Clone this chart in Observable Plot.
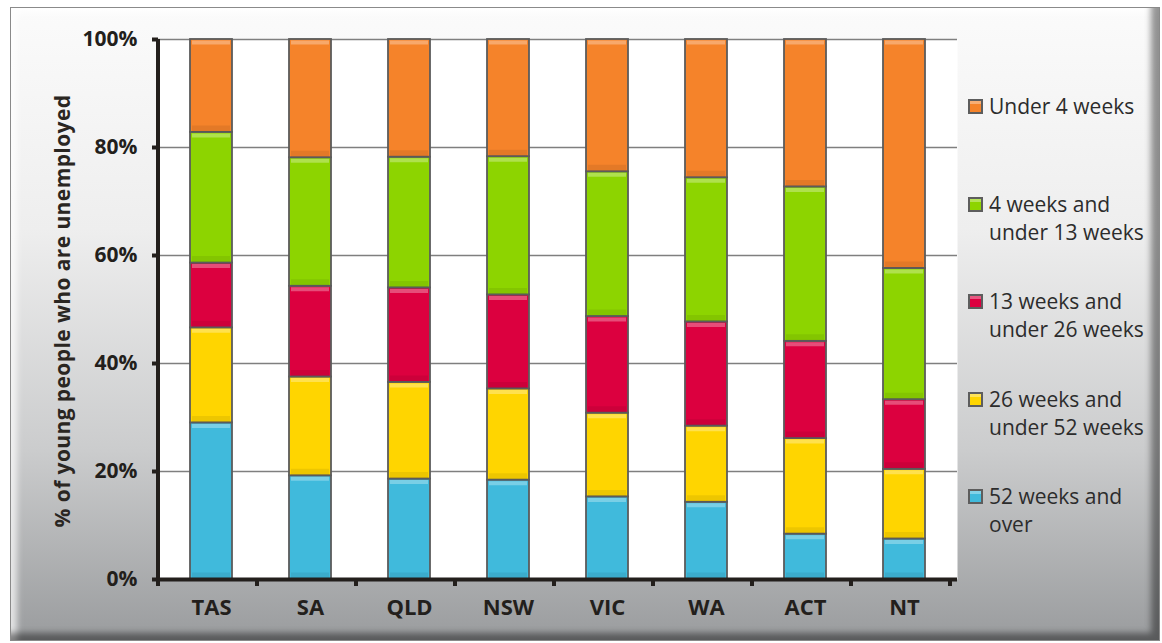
<!DOCTYPE html>
<html>
<head>
<meta charset="utf-8">
<script src="https://cdn.jsdelivr.net/npm/d3@7"></script>
<script src="https://cdn.jsdelivr.net/npm/@observablehq/plot@0.6"></script>
<style>
  html, body { margin: 0; padding: 0; background: #ffffff; }
  #wrap { position: relative; width: 1162px; height: 643px; overflow: hidden; }
  #frame {
    position: absolute; left: 10px; top: 7px; width: 1150px; height: 634px;
    box-sizing: border-box; border: 1px solid #8a8a8a;
    background: linear-gradient(to bottom, #fbfbfb 0%, #eeeeee 35%, #cbcccd 70%, #9a9c9e 100%);
    box-shadow: inset -11px -10px 6px -3px rgba(0,0,0,0.42), inset 9px 9px 6px -3px rgba(255,255,255,0.7);
  }
  #chart { position: absolute; left: 0; top: 0; }
  #ytitle {
    position: absolute; left: 62px; top: 311px;
    transform: translate(-50%, -50%) rotate(-90deg);
    white-space: nowrap; font: bold 21px "Open Sans", sans-serif; letter-spacing: 0.4px; color: #2a2622;
  }
  .leg { position: absolute; left: 968px; font: 21px/28px "Open Sans", sans-serif; color: #2c2c2c; }
  .leg .sw { position: absolute; left: 0; top: 7px; width: 15px; height: 15px; box-sizing: border-box;
             border: 2px solid #5d5d5d; }
  .leg .tx { margin-left: 21px; white-space: nowrap; }
</style>
</head>
<body>
<div id="wrap">
  <div id="frame"></div>
  <div id="chart"></div>
  <div id="ytitle">% of young people who are unemployed</div>
</div>
<script>
// ---- data ----
const states = ["TAS", "SA", "QLD", "NSW", "VIC", "WA", "ACT", "NT"];
const seriesNames = [
  "52 weeks and over",
  "26 weeks and under 52 weeks",
  "13 weeks and under 26 weeks",
  "4 weeks and under 13 weeks",
  "Under 4 weeks"
];
const over52   = [29.0, 19.2, 18.6, 18.4, 15.3, 14.3,  8.4,  7.5];
const w26to52  = [17.6, 18.3, 17.9, 16.9, 15.5, 14.1, 17.7, 12.9];
const w13to26  = [12.0, 16.8, 17.5, 17.4, 17.9, 19.3, 18.0, 12.9];
const w4to13   = [24.2, 23.8, 24.2, 25.6, 26.8, 26.7, 28.6, 24.3];
const under4   = [17.2, 21.9, 21.8, 21.7, 24.5, 25.6, 27.3, 42.4];
const yTicks = [0, 20, 40, 60, 80, 100];
const legendLines = [
  ["Under 4 weeks"],
  ["4 weeks and", "under 13 weeks"],
  ["13 weeks and", "under 26 weeks"],
  ["26 weeks and", "under 52 weeks"],
  ["52 weeks and", "over"]
];

const seriesColors = ["#40badc", "#ffd500", "#dc003f", "#8dd400", "#f5832a"];
const seriesValues = [over52, w26to52, w13to26, w4to13, under4];

const data = [];
seriesNames.forEach((s, si) => {
  states.forEach((st, i) => data.push({state: st, series: s, value: seriesValues[si][i]}));
});

const font = '"Open Sans", sans-serif';
const axisColor = "#231f1c";

const chart = Plot.plot({
  width: 1162,
  height: 643,
  marginLeft: 158,
  marginRight: 205,
  marginTop: 39,
  marginBottom: 64,
  style: {background: "transparent", fontFamily: font, fontSize: "21px", color: axisColor, overflow: "visible"},
  x: {domain: states, paddingInner: 0.58, paddingOuter: 0.29, label: null},
  y: {domain: [0, 100], label: null},
  color: {domain: seriesNames, range: seriesColors},
  marks: [
    Plot.frame({fill: "white", stroke: "none"}),
    Plot.gridY(yTicks, {stroke: "#7f7f7f", strokeOpacity: 1, strokeWidth: 1.5}),
    Plot.barY(data, {x: "state", y: "value", fill: "series", order: seriesNames,
      stroke: "#5b5b5b", strokeWidth: 1.8}),
    Plot.tickY(data, Plot.stackY2({x: "state", y: "value", z: "series", order: seriesNames,
      stroke: "white", strokeOpacity: 0.3, strokeWidth: 4, dy: 3, inset: 2})),
    Plot.tickY(data, Plot.stackY1({x: "state", y: "value", z: "series", order: seriesNames,
      stroke: "black", strokeOpacity: 0.07, strokeWidth: 6, dy: -4, inset: 2})),
    Plot.ruleY([0], {stroke: axisColor, strokeWidth: 4}),
    Plot.axisY(yTicks, {tickFormat: d => d + "%", tickSize: 6, tickPadding: 15,
      stroke: axisColor, strokeWidth: 4, fontWeight: "bold", fontSize: 21, fill: axisColor, label: null}),
    Plot.axisX({tickSize: 0, tickPadding: 20, fontWeight: "bold", fontSize: 22, fill: axisColor, label: null})
  ]
});
document.getElementById("chart").appendChild(chart);

// axis line on the left and category boundary ticks, computed from the scales
const xs = chart.scale("x");
const ys = chart.scale("y");
const x0 = xs.range[0];
const y0 = ys.apply(0), yTop = ys.apply(100);
const svg = d3.select(chart);
const g = svg.append("g").attr("stroke", axisColor).attr("stroke-width", 4);
g.append("line").attr("x1", x0).attr("x2", x0).attr("y1", yTop).attr("y2", y0 + 2);
for (let i = 0; i <= states.length; i++) {
  const xx = x0 + i * xs.step;
  g.append("line").attr("x1", xx).attr("x2", xx).attr("y1", y0).attr("y2", y0 + 7);
}

// legend (HTML)
const wrap = document.getElementById("wrap");
const legendOrder = [4, 3, 2, 1, 0];
legendOrder.forEach((si, k) => {
  const item = document.createElement("div");
  item.className = "leg";
  item.style.top = (92 + k * 97.5) + "px";
  const sw = document.createElement("div");
  sw.className = "sw";
  sw.style.background = `linear-gradient(to bottom, rgba(255,255,255,0.35) 0 30%, transparent 30%), ${seriesColors[si]}`;
  item.appendChild(sw);
  const tx = document.createElement("div");
  tx.className = "tx";
  tx.innerHTML = legendLines[k].join("<br>");
  item.appendChild(tx);
  wrap.appendChild(item);
});
</script>
</body>
</html>
